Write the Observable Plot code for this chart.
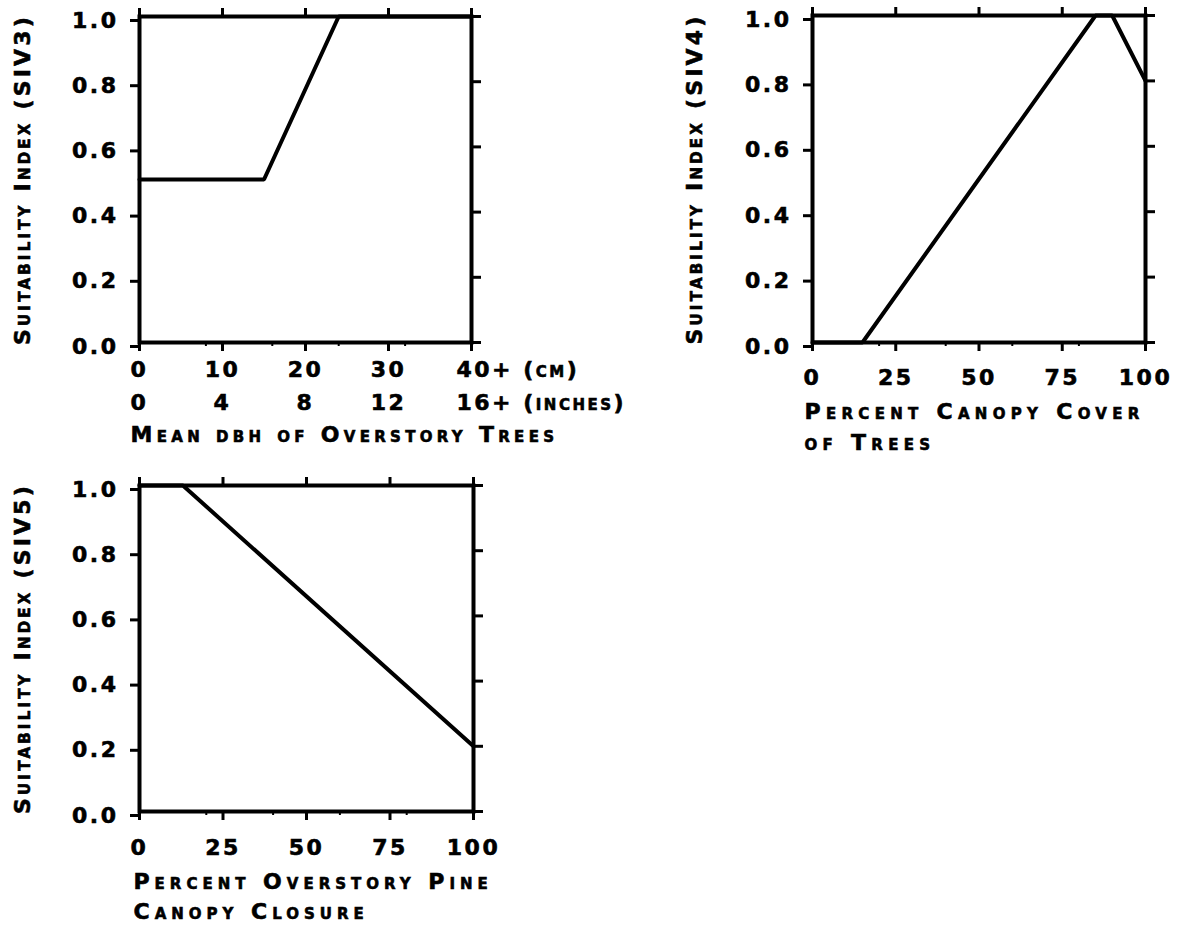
<!DOCTYPE html>
<html><head><meta charset="utf-8">
<script src="https://cdn.jsdelivr.net/npm/d3@7"></script>
<script src="https://cdn.jsdelivr.net/npm/@observablehq/plot@0.6"></script>
<style>
body{margin:0;background:#fff;}
#wrap{position:relative;width:1177px;height:925px;overflow:hidden;background:#fff;}
.panel{position:absolute;}
</style></head><body><div id="wrap"></div>
<script>
// ---- Panel 1: SIV3 vs mean dbh ----
const dbhCm = [0, 15, 24, 40];
const siv3 = [0.5, 0.5, 1.0, 1.0];
const dbhTicks = [0, 10, 20, 30, 40];
const dbhLabelsCm = ["0", "10", "20", "30", "40+ (cm)"];
const dbhLabelsIn = ["0", "4", "8", "12", "16+ (inches)"];
const dbhMinor = [8, 16, 24, 32];
const siv3Title = "Suitability Index (SIV3)";
const dbhTitle = ["Mean dbh of Overstory Trees"];

// ---- Panel 2: SIV4 vs canopy cover ----
const canopyCover = [0, 15, 85, 90, 100];
const siv4 = [0, 0, 1.0, 1.0, 0.8];
const pctTicks = [0, 25, 50, 75, 100];
const pctLabels = ["0", "25", "50", "75", "100"];
const pctMinor = [20, 40, 60, 80];
const siv4Title = "Suitability Index (SIV4)";
const coverTitle = ["Percent Canopy Cover", "of Trees"];

// ---- Panel 3: SIV5 vs pine canopy closure ----
const pineClosure = [0, 13, 100];
const siv5 = [1.0, 1.0, 0.2];
const siv5Title = "Suitability Index (SIV5)";
const closureTitle = ["Percent Overstory Pine", "Canopy Closure"];

const yTicks = [0, 0.2, 0.4, 0.6, 0.8, 1.0];

const FS = 22;
function makePanel(c) {
  const data = c.xs.map((x, i) => ({x, y: c.ys[i]}));
  const noText = () => "";
  const marks = [
    Plot.axisY({anchor: "left", ticks: yTicks, tickSize: 9, tickPadding: 12, tickFormat: d3.format(".1f"),
      strokeWidth: 3, fontSize: FS, dy: 4, label: null}),
    Plot.axisY({anchor: "right", ticks: yTicks, tickSize: 9, tickFormat: noText, strokeWidth: 3, label: null}),
    Plot.axisX({anchor: "top", ticks: c.xTicks, tickSize: 9, tickFormat: noText, strokeWidth: 3, label: null}),
    Plot.axisX({anchor: "bottom", ticks: c.xTicks, tickSize: 9, tickFormat: noText, strokeWidth: 3, label: null}),
    Plot.axisX({anchor: "bottom", ticks: c.minor, tickSize: 4, tickFormat: noText, strokeWidth: 2, label: null}),
    Plot.frame({stroke: "#000", strokeWidth: 4}),
    Plot.line(data, {x: "x", y: "y", stroke: "#000", strokeWidth: 4, strokeLinejoin: "miter"}),
    Plot.text([c.yTitle], {text: d => d, frameAnchor: "left", textAnchor: "middle", rotate: -90, dx: c.yTitleDx,
      fontSize: FS, fontVariant: "small-caps"})
  ];
  c.rows.forEach((labels, r) => {
    const idx = d3.range(labels.length);
    const body = c.lastStart ? idx.slice(0, -1) : idx;
    marks.push(Plot.text(body, {x: i => c.xTicks[i], text: i => labels[i], frameAnchor: "bottom",
      dy: c.rowDy[r], fontSize: FS, fontVariant: "small-caps"}));
    if (c.lastStart) {
      const last = idx.slice(-1);
      marks.push(Plot.text(last, {x: i => c.xTicks[i], text: i => labels[i], frameAnchor: "bottom",
        textAnchor: "start", dx: -15, dy: c.rowDy[r], fontSize: FS, fontVariant: "small-caps"}));
    }
  });
  c.xTitle.forEach((line, k) => {
    marks.push(Plot.text([line], {text: d => d, frameAnchor: "bottom-left", textAnchor: "start",
      dx: c.titleDx, dy: c.titleDy[k], fontSize: FS, fontVariant: "small-caps"}));
  });
  const svg = Plot.plot({
    width: c.width, height: c.height,
    marginLeft: c.mL, marginRight: c.mR, marginTop: c.mT, marginBottom: c.mB,
    x: {domain: c.xDomain, label: null, axis: null},
    y: {domain: [0, 1], label: null, axis: null},
    style: {fontFamily: "'DejaVu Sans', sans-serif", fontWeight: "bold", letterSpacing: "2.5px",
      color: "#000", background: "transparent", overflow: "visible"},
    marks
  });
  const texts = d3.select(svg).selectAll("text");
  // heavier, Copperplate-like lettering
  texts.style("stroke", "#000").style("stroke-width", "0.6px").style("paint-order", "fill");
  texts.filter(function() { return c.xTitle.includes(this.textContent); }).style("letter-spacing", c.titleLs + "px");
  texts.filter(function() { return this.textContent === c.yTitle; }).style("letter-spacing", "3.2px");
  const div = document.createElement("div");
  div.className = "panel";
  div.style.left = c.left + "px";
  div.style.top = c.top + "px";
  div.appendChild(svg);
  document.getElementById("wrap").appendChild(div);
}

makePanel({left: 0, top: 0, width: 520, height: 460, mL: 139, mR: 49, mT: 16, mB: 118,
  xDomain: [0, 40], xs: dbhCm, ys: siv3, xTicks: dbhTicks, minor: dbhMinor,
  rows: [dbhLabelsCm, dbhLabelsIn], rowDy: [34, 67], lastStart: true,
  xTitle: dbhTitle, titleDx: -9, titleDy: [99], titleLs: 4.3, yTitle: siv3Title, yTitleDx: -117});

makePanel({left: 680, top: 0, width: 497, height: 460, mL: 132, mR: 32, mT: 15, mB: 118,
  xDomain: [0, 100], xs: canopyCover, ys: siv4, xTicks: pctTicks, minor: pctMinor,
  rows: [pctLabels], rowDy: [42], lastStart: false,
  xTitle: coverTitle, titleDx: -8, titleDy: [76, 107], titleLs: 5.3, yTitle: siv4Title, yTitleDx: -118});

makePanel({left: 0, top: 460, width: 520, height: 465, mL: 139, mR: 47, mT: 25, mB: 114,
  xDomain: [0, 100], xs: pineClosure, ys: siv5, xTicks: pctTicks, minor: pctMinor,
  rows: [pctLabels], rowDy: [43], lastStart: false,
  xTitle: closureTitle, titleDx: -6, titleDy: [77, 107], titleLs: 5.0, yTitle: siv5Title, yTitleDx: -117});
</script>
</body></html>
